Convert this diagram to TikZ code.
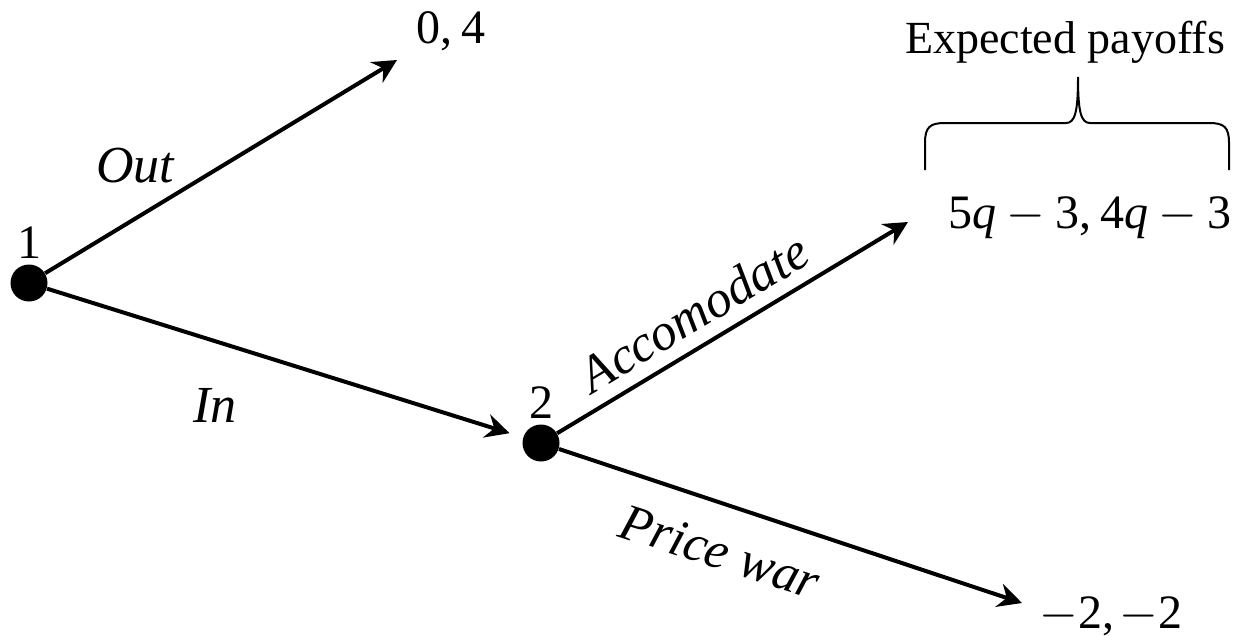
\documentclass[tikz,border=0pt]{standalone}
\usepackage{fontspec}
\setmainfont{Liberation Serif}
\usetikzlibrary{arrows.meta}
\newcommand{\mminus}{$-$}
\begin{document}
\begin{tikzpicture}[x=0.5pt,y=-0.5pt,
  dot/.style={circle,fill=black,inner sep=0pt,minimum size=18.5pt},
  arr/.style={line width=2pt,-{Stealth[length=12pt,width=12pt,inset=4pt]}},
  lbl/.style={font=\fontsize{26}{30}\selectfont\itshape,inner sep=0pt,anchor=base},
  num/.style={font=\fontsize{24}{28}\selectfont,inner sep=0pt,anchor=base},
  txt/.style={font=\fontsize{23}{28}\selectfont,inner sep=0pt,anchor=base},
  bracepath/.style={line width=1pt}]
\useasboundingbox (0,0) rectangle (1242,637);
% decision nodes
\node[dot] (n1) at (29,283) {};
\node[dot] (n2) at (541,443) {};
% free ends of the branches
\coordinate (t1) at (397,60);
\coordinate (t2) at (908,222);
\coordinate (t3) at (1022,603);
% branches
\draw[arr] (n1) -- (t1);
\draw[arr,shorten >=7pt] (n1) -- (n2);
\draw[arr] (n2) -- (t2);
\draw[arr] (n2) -- (t3);
% player labels
\node[num] (p1) at (30,258) {1};
\node[num] (p2) at (541,418) {2};
% action labels
\node[lbl] (lout) at (135,182) {Out};
\node[lbl] (lin) at (215,422) {In};
\node[lbl,rotate=31] (lacc) at (703,328) {Accomodate};
\node[lbl,rotate=-18] (lpw) at (715,568) {Price war};
% payoffs
\node[num] (pay1) at (451,43) {0,\hspace{0.17em}4};
\node[num] (pay2) at (1090,228) {5\textit{q}\hspace{0.22em}\mminus\hspace{0.22em}3,\hspace{0.17em}4\textit{q}\hspace{0.22em}\mminus\hspace{0.22em}3};
\node[num] (pay3) at (1111,628) {\mminus2,\hspace{0.1em}\mminus2};
% brace and heading
\node[txt] (head) at (1065,53) {Expected payoffs};
\draw[bracepath] (925,170) -- (925,143) .. controls (925,127) and (930,123) .. (945,123)
  -- (1066,123) .. controls (1075,123) and (1078,112) .. (1078,77)
  .. controls (1078,112) and (1081,123) .. (1090,123)
  -- (1209,123) .. controls (1224,123) and (1229,127) .. (1229,143) -- (1229,170);
\end{tikzpicture}
\end{document}
